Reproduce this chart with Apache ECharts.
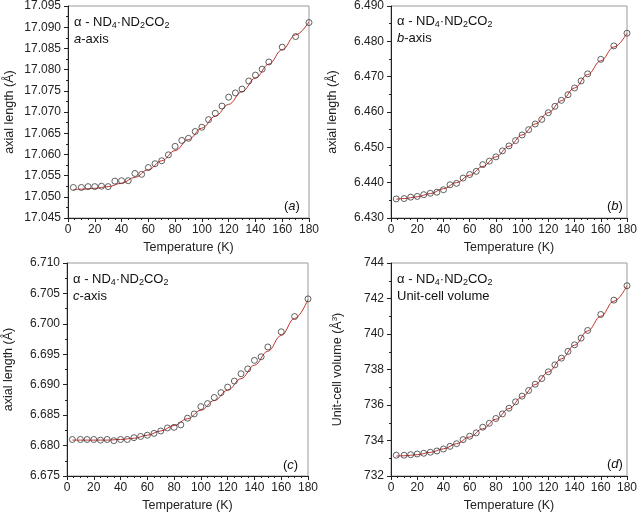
<!DOCTYPE html>
<html><head><meta charset="utf-8">
<script src="https://cdn.jsdelivr.net/npm/echarts@6/dist/echarts.min.js"></script>
<style>html,body{margin:0;padding:0;background:#fff}#c{width:640px;height:513px}</style>
</head><body><div id="c"></div>
<script>
// Temperatures of measured points (K)
const temps = [4,10,15,20,25,30,35,40,45,50,55,60,65,70,75,80,85,90,95,100,105,110,115,120,125,130,135,140,145,150,160,170,180];
// Measured values
const aAxis = [17.0522,17.0522,17.0524,17.0524,17.0525,17.0524,17.0537,17.0538,17.0538,17.0555,17.0553,17.0569,17.0578,17.0585,17.0599,17.0619,17.0633,17.0638,17.0654,17.0664,17.0682,17.0697,17.0714,17.0735,17.0745,17.0754,17.0773,17.0787,17.0801,17.0818,17.0853,17.0878,17.0911];
const bAxis = [6.4354,6.4355,6.4359,6.4361,6.4366,6.4370,6.4373,6.4380,6.4394,6.4398,6.4413,6.4423,6.4432,6.4451,6.4461,6.4473,6.4490,6.4504,6.4519,6.4535,6.4550,6.4566,6.4579,6.4598,6.4616,6.4633,6.4649,6.4668,6.4688,6.4708,6.4749,6.4787,6.4823];
const cAxis = [6.6810,6.6810,6.6810,6.6810,6.6809,6.6810,6.6808,6.6810,6.6810,6.6813,6.6815,6.6817,6.6820,6.6824,6.6829,6.6830,6.6834,6.6845,6.6852,6.6864,6.6869,6.6879,6.6887,6.6896,6.6906,6.6918,6.6926,6.6940,6.6946,6.6962,6.6987,6.7012,6.7041];
const volume = [733.17,733.17,733.20,733.24,733.28,733.34,733.41,733.52,733.67,733.82,734.05,734.24,734.43,734.75,734.97,735.24,735.50,735.82,736.18,736.50,736.82,737.17,737.49,737.87,738.26,738.64,739.02,739.39,739.77,740.20,741.10,741.91,742.72];
// Fitted curves
const fitT = [4,10,20,30,40,50,60,70,80,90,100,110,120,130,140,150,160,170,180];
const fitA = [17.0517,17.0518,17.0520,17.0524,17.0532,17.0546,17.0564,17.0585,17.0609,17.0635,17.0662,17.0690,17.0718,17.0748,17.0780,17.0813,17.0847,17.0882,17.0913];
const fitB = [6.4353,6.4355,6.4360,6.4369,6.4383,6.4400,6.4421,6.4446,6.4473,6.4503,6.4535,6.4566,6.4598,6.4632,6.4668,6.4706,6.4745,6.4784,6.4823];
const fitC = [6.6809,6.6809,6.6809,6.6809,6.6810,6.6812,6.6817,6.6824,6.6833,6.6844,6.6858,6.6874,6.6891,6.6910,6.6932,6.6955,6.6981,6.7009,6.7040];
const fitV = [733.12,733.14,733.20,733.33,733.53,733.82,734.20,734.66,735.20,735.80,736.46,737.15,737.86,738.60,739.37,740.17,741.00,741.85,742.72];

const panels = [
  {vals:aAxis, fit:fitA, min:17.045, max:17.095, step:0.005, dec:3, yname:'axial length (Å)', sub:'{i|a}-axis', tag:'({i|a})', grid:{left:68,top:6,width:241,height:212}},
  {vals:bAxis, fit:fitB, min:6.430, max:6.490, step:0.010, dec:3, yname:'axial length (Å)', sub:'{i|b}-axis', tag:'({i|b})', grid:{left:391,top:5,width:241,height:213}},
  {vals:cAxis, fit:fitC, min:6.675, max:6.710, step:0.005, dec:3, yname:'axial length (Å)', sub:'{i|c}-axis', tag:'({i|c})', grid:{left:67,top:263,width:241,height:214}},
  {vals:volume, fit:fitV, min:732, max:744, step:2, dec:0, yname:'Unit-cell volume (Å{sup|3})', sub:'Unit-cell volume', tag:'({i|d})', grid:{left:391,top:263,width:241,height:213}}
];
const FONT = 'Liberation Sans, Arial, sans-serif';
const rich = {
  n:{fontSize:13, fontFamily:FONT, color:'#111'},
  s:{fontSize:9, fontFamily:FONT, color:'#111', padding:[7,0,0,0]},
  i:{fontSize:13, fontFamily:FONT, color:'#111', fontStyle:'italic'}
};
const option = {animation:false, grid:[], xAxis:[], yAxis:[], series:[], title:[]};
panels.forEach((p,k)=>{
  option.grid.push(Object.assign({show:true, borderColor:'#9a9a9a', borderWidth:1, backgroundColor:'#fff'}, p.grid));
  option.xAxis.push({gridIndex:k, type:'value', min:0, max:180, interval:20,
    name:'Temperature (K)', nameLocation:'middle', nameGap:23,
    nameTextStyle:{fontSize:12.5, fontFamily:FONT, color:'#222'},
    axisLine:{onZero:false, lineStyle:{color:'#222', width:1}},
    axisTick:{show:true, inside:false, length:4, lineStyle:{color:'#222'}},
    minorTick:{show:true, splitNumber:4, length:2, lineStyle:{color:'#222'}},
    splitLine:{show:false},
    axisLabel:{fontSize:12, fontFamily:FONT, color:'#222', margin:6}});
  option.yAxis.push({gridIndex:k, type:'value', min:p.min, max:p.max, interval:p.step,
    name:p.yname, nameLocation:'middle', nameGap:p.dec?52:46, nameRotate:90,
    nameTextStyle:{fontSize:12.5, fontFamily:FONT, color:'#222', rich:{sup:{fontSize:8, fontFamily:FONT, color:'#222', padding:[0,0,6,0]}}},
    axisLine:{onZero:false, lineStyle:{color:'#222', width:1}},
    axisTick:{show:true, inside:false, length:4, lineStyle:{color:'#222'}},
    minorTick:{show:true, splitNumber:2, length:2, lineStyle:{color:'#222'}},
    splitLine:{show:false},
    axisLabel:{fontSize:12, fontFamily:FONT, color:'#222', margin:7, formatter:v=>v.toFixed(p.dec)}});
  option.series.push({type:'line', xAxisIndex:k, yAxisIndex:k, data:p.fit.map((v,i)=>[fitT[i],v]),
    smooth:0.4, smoothMonotone:'x', showSymbol:false, lineStyle:{color:'#c4322f', width:1}, z:2, silent:true});
  option.series.push({type:'scatter', xAxisIndex:k, yAxisIndex:k, data:p.vals.map((v,i)=>[temps[i],v]),
    symbol:'circle', symbolSize:6, itemStyle:{color:'rgba(255,255,255,0)', borderColor:'#3a3a3a', borderWidth:1}, z:3, silent:true});
  option.title.push({text:'α - ND{s|4}·ND{s|2}CO{s|2}\n'+p.sub, left:p.grid.left+6, top:p.grid.top+8,
    padding:0, textStyle:{fontSize:13, fontFamily:FONT, color:'#111', fontWeight:'normal', lineHeight:17, rich:rich}});
  option.title.push({text:p.tag, left:p.grid.left+p.grid.width-25, top:p.grid.top+p.grid.height-18,
    padding:0, textStyle:{fontSize:13, fontFamily:FONT, color:'#111', fontWeight:'normal', rich:rich}});
});
echarts.init(document.getElementById('c'), null, {renderer:'canvas'}).setOption(option);
</script></body></html>
